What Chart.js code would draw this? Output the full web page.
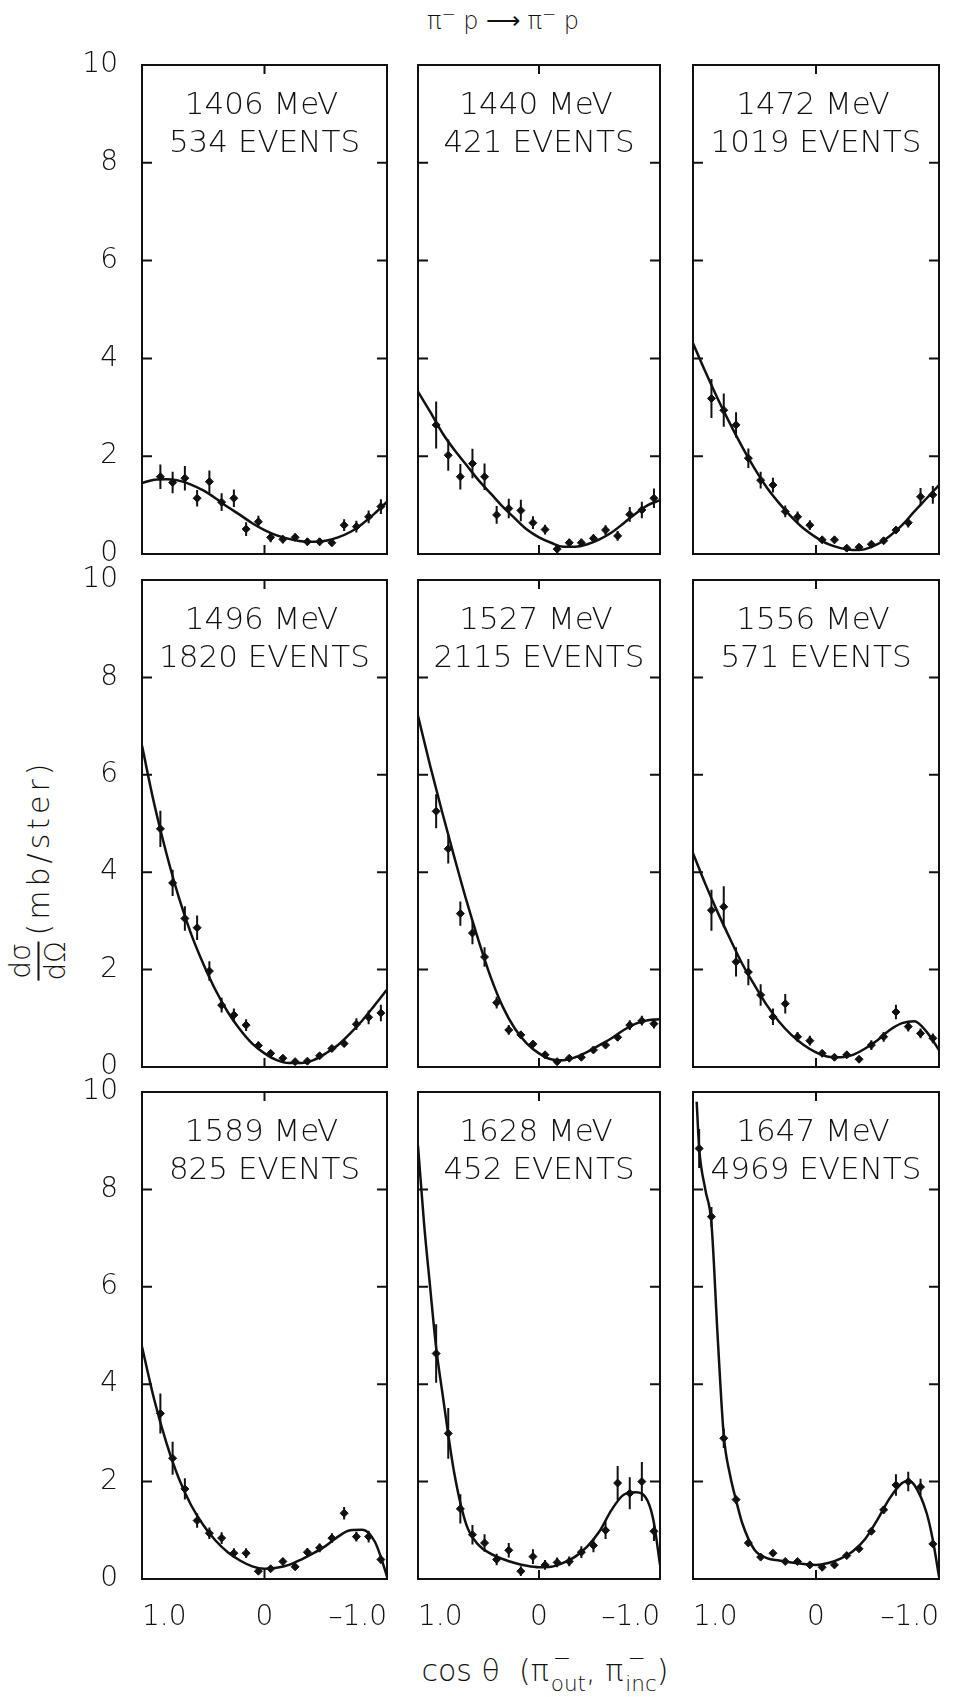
<!DOCTYPE html>
<html>
<head>
<meta charset="utf-8">
<script src="https://cdn.jsdelivr.net/npm/chart.js@4.4.1/dist/chart.umd.min.js"></script>
<style>
  body { margin: 0; background: #fff; width: 968px; height: 1697px; position: relative; overflow: hidden;
         font-family: "DejaVu Sans", sans-serif; font-weight: 200; color: #111; }
  canvas { position: absolute; }
  .txt { position: absolute; white-space: nowrap; transform: translate(-50%, -50%); font-size: 31px; }
  #title { position: absolute; left: 503px; top: 19px; transform: translate(-50%, -50%); font-size: 24px; white-space: nowrap; }
  #ytitle { position: absolute; left: 38px; top: 870px; transform: translate(-50%, -50%) rotate(-90deg);
            display: flex; align-items: center; white-space: nowrap; font-size: 30px; }
  .frac { display: inline-flex; flex-direction: column; align-items: center; line-height: 1; font-size: 28px; margin-right: 6px; }
  .frac .bar { align-self: stretch; border-top: 2px solid #111; margin: 3px 0 2px; }
  .unit { letter-spacing: 4px; }
  #xtitle { position: absolute; left: 545px; top: 1670px; transform: translate(-50%, -50%); font-size: 30px; white-space: nowrap; }
  .ss { position: relative; display: inline-block; font-size: 0.72em; margin-left: 2px; }
  .ss .sp { position: absolute; left: 0.1em; top: -0.75em; }
  .ss .sb { position: relative; top: 0.45em; }
</style>
</head>
<body>
<div id="title">π<sup style="font-size:0.7em">−</sup> p ⟶ π<sup style="font-size:0.7em">−</sup> p</div>
<div id="ytitle"><span class="frac"><span>dσ</span><span class="bar"></span><span>dΩ</span></span><span class="unit">(mb/ster)</span></div>
<div id="xtitle">cos θ&nbsp; (π<span class="ss"><span class="sp">−</span><span class="sb">out</span></span>, π<span class="ss"><span class="sp">−</span><span class="sb">inc</span></span>)</div>
<script>
// ================== Data ==================
const energies = [1406, 1440, 1472, 1496, 1527, 1556, 1589, 1628, 1647];
const events = [534, 421, 1019, 1820, 2115, 571, 825, 452, 4969];

// bin centres of cos θ (forward bin missing except at 1647 MeV)
const cosBins = [0.95, 0.85, 0.75, 0.65, 0.55, 0.45, 0.35, 0.25, 0.15, 0.05, -0.05, -0.15, -0.25, -0.35, -0.45, -0.55, -0.65, -0.75, -0.85, -0.95];

const y1406 = [null, 1.58, 1.46, 1.55, 1.14, 1.48, 1.06, 1.14, 0.51, 0.66, 0.34, 0.30, 0.34, 0.25, 0.25, 0.23, 0.59, 0.56, 0.76, 0.97];
const e1406 = [null, 0.25, 0.22, 0.25, 0.17, 0.23, 0.18, 0.18, 0.14, 0.12, 0.10, 0.08, 0.08, 0.07, 0.07, 0.07, 0.12, 0.12, 0.13, 0.15];
const y1440 = [null, 2.64, 2.02, 1.58, 1.85, 1.58, 0.80, 0.93, 0.89, 0.64, 0.50, 0.10, 0.23, 0.23, 0.32, 0.49, 0.37, 0.81, 0.90, 1.14];
const e1440 = [null, 0.48, 0.32, 0.26, 0.30, 0.27, 0.18, 0.20, 0.22, 0.13, 0.10, 0.08, 0.08, 0.08, 0.08, 0.10, 0.10, 0.15, 0.17, 0.20];
const y1472 = [null, 3.18, 2.94, 2.64, 1.96, 1.51, 1.41, 0.87, 0.76, 0.59, 0.29, 0.29, 0.12, 0.14, 0.20, 0.27, 0.49, 0.64, 1.17, 1.21];
const e1472 = [null, 0.40, 0.34, 0.26, 0.20, 0.17, 0.15, 0.12, 0.11, 0.10, 0.07, 0.07, 0.05, 0.05, 0.05, 0.06, 0.08, 0.10, 0.18, 0.18];
const y1496 = [null, 4.89, 3.78, 3.05, 2.86, 1.97, 1.27, 1.07, 0.86, 0.44, 0.28, 0.18, 0.11, 0.12, 0.23, 0.38, 0.48, 0.88, 1.02, 1.11];
const e1496 = [null, 0.37, 0.27, 0.25, 0.25, 0.20, 0.15, 0.13, 0.12, 0.08, 0.06, 0.05, 0.04, 0.04, 0.05, 0.06, 0.07, 0.12, 0.14, 0.17];
const y1527 = [null, 5.25, 4.48, 3.15, 2.75, 2.26, 1.32, 0.76, 0.66, 0.47, 0.25, 0.11, 0.18, 0.20, 0.35, 0.45, 0.61, 0.86, 0.95, 0.89];
const e1527 = [null, 0.35, 0.30, 0.25, 0.23, 0.20, 0.12, 0.10, 0.08, 0.07, 0.05, 0.04, 0.04, 0.04, 0.06, 0.06, 0.07, 0.10, 0.10, 0.10];
const y1556 = [null, 3.22, 3.29, 2.16, 1.95, 1.48, 1.03, 1.30, 0.62, 0.54, 0.28, 0.20, 0.25, 0.16, 0.45, 0.62, 1.13, 0.83, 0.69, 0.59];
const e1556 = [null, 0.42, 0.42, 0.30, 0.27, 0.22, 0.17, 0.20, 0.10, 0.10, 0.06, 0.05, 0.05, 0.05, 0.10, 0.10, 0.15, 0.10, 0.10, 0.10];
const y1589 = [null, 3.40, 2.48, 1.85, 1.20, 0.94, 0.84, 0.53, 0.53, 0.16, 0.21, 0.36, 0.25, 0.55, 0.64, 0.84, 1.35, 0.87, 0.87, 0.40];
const e1589 = [null, 0.41, 0.34, 0.22, 0.15, 0.12, 0.12, 0.10, 0.10, 0.05, 0.05, 0.07, 0.06, 0.08, 0.09, 0.10, 0.13, 0.10, 0.12, 0.08];
const y1628 = [null, 4.63, 2.99, 1.44, 0.91, 0.74, 0.40, 0.59, 0.16, 0.46, 0.29, 0.34, 0.36, 0.55, 0.69, 1.00, 1.97, 1.76, 2.00, 0.98];
const e1628 = [null, 0.60, 0.52, 0.30, 0.20, 0.18, 0.12, 0.15, 0.10, 0.15, 0.10, 0.10, 0.10, 0.12, 0.14, 0.18, 0.35, 0.33, 0.40, 0.20];
const y1647 = [8.84, 7.44, 2.89, 1.63, 0.74, 0.45, 0.53, 0.36, 0.36, 0.29, 0.24, 0.29, 0.48, 0.62, 0.98, 1.42, 1.93, 2.00, 1.89, 0.72];
const e1647 = [0.40, 0.20, 0.20, 0.08, 0.05, 0.04, 0.04, 0.03, 0.03, 0.03, 0.03, 0.03, 0.04, 0.05, 0.06, 0.08, 0.22, 0.20, 0.17, 0.06];

// fitted curves
const fitCos = [1.0, 0.9, 0.8, 0.7, 0.6, 0.5, 0.4, 0.3, 0.2, 0.1, 0.0, -0.1, -0.2, -0.3, -0.4, -0.5, -0.6, -0.7, -0.8, -0.9, -1.0];
const fit1406 = [1.45, 1.52, 1.53, 1.50, 1.42, 1.30, 1.14, 0.96, 0.80, 0.63, 0.49, 0.38, 0.31, 0.26, 0.25, 0.27, 0.34, 0.45, 0.62, 0.83, 1.07];
const fit1440 = [3.32, 2.91, 2.48, 2.13, 1.82, 1.51, 1.24, 0.97, 0.73, 0.50, 0.34, 0.23, 0.15, 0.15, 0.20, 0.30, 0.44, 0.63, 0.83, 1.00, 1.10];
const fit1472 = [4.31, 3.73, 3.18, 2.67, 2.19, 1.75, 1.36, 1.04, 0.76, 0.52, 0.34, 0.20, 0.12, 0.08, 0.10, 0.20, 0.37, 0.59, 0.87, 1.14, 1.41];
const fit1496 = [6.60, 5.40, 4.38, 3.49, 2.74, 2.12, 1.58, 1.13, 0.77, 0.48, 0.28, 0.14, 0.08, 0.08, 0.14, 0.28, 0.45, 0.69, 0.96, 1.27, 1.59];
const fit1527 = [7.21, 6.19, 5.23, 4.31, 3.42, 2.60, 1.85, 1.24, 0.79, 0.48, 0.28, 0.16, 0.14, 0.20, 0.31, 0.45, 0.59, 0.76, 0.89, 0.96, 0.98];
const fit1556 = [4.39, 3.76, 3.18, 2.64, 2.12, 1.68, 1.27, 0.93, 0.66, 0.45, 0.30, 0.21, 0.20, 0.25, 0.38, 0.55, 0.76, 0.90, 0.94, 0.72, 0.35];
const fitCos1589 = [1.0, 0.9, 0.8, 0.7, 0.6, 0.5, 0.4, 0.3, 0.2, 0.1, 0.0, -0.1, -0.2, -0.3, -0.4, -0.5, -0.6, -0.7, -0.8, -0.9, -0.95, -1.0];
const fit1589 = [4.77, 3.68, 2.79, 2.07, 1.52, 1.11, 0.79, 0.55, 0.38, 0.26, 0.21, 0.23, 0.29, 0.40, 0.53, 0.68, 0.87, 1.00, 1.01, 0.77, 0.45, 0.05];
const fitCos1628 = [1.0, 0.95, 0.9, 0.85, 0.8, 0.7, 0.6, 0.5, 0.4, 0.3, 0.2, 0.1, 0.0, -0.1, -0.2, -0.3, -0.4, -0.5, -0.6, -0.7, -0.8, -0.9, -0.95, -1.0];
const fit1628 = [8.9, 7.3, 6.0, 4.75, 3.85, 2.17, 1.11, 0.70, 0.52, 0.41, 0.33, 0.27, 0.24, 0.25, 0.33, 0.46, 0.67, 0.98, 1.42, 1.73, 1.78, 1.59, 1.15, 0.29];
const fitCos1647 = [0.97, 0.95, 0.9, 0.85, 0.8, 0.75, 0.7, 0.65, 0.6, 0.5, 0.4, 0.3, 0.2, 0.1, 0.0, -0.1, -0.2, -0.3, -0.4, -0.5, -0.6, -0.7, -0.75, -0.8, -0.9, -0.95, -1.0];
const fit1647 = [9.8, 8.85, 8.0, 7.3, 5.0, 2.95, 2.15, 1.62, 1.15, 0.60, 0.43, 0.38, 0.34, 0.31, 0.29, 0.33, 0.42, 0.57, 0.82, 1.22, 1.66, 1.97, 2.02, 1.93, 1.35, 0.8, 0.05];

// ascending order, so the end labels sit inside the panel on the reversed axis
const xTicks = [-1, 0, 1];
const yTicks = [0, 2, 4, 6, 8, 10];

const panelPts = [y1406, y1440, y1472, y1496, y1527, y1556, y1589, y1628, y1647];
const panelErr = [e1406, e1440, e1472, e1496, e1527, e1556, e1589, e1628, e1647];
const panelFit = [fit1406, fit1440, fit1472, fit1496, fit1527, fit1556, fit1589, fit1628, fit1647];
const panelFitCos = [fitCos, fitCos, fitCos, fitCos, fitCos, fitCos, fitCos1589, fitCos1628, fitCos1647];

// ================== Layout ==================
const colLeft = [142, 418, 693], colRight = [387, 660, 939];
const rowTop = [65, 580, 1092], rowBottom = [554, 1067, 1579];
const ML = 80, MR = 70, MT = 50, MB = 70;
const INK = "#111";
const tickFont = { family: "DejaVu Sans", size: 28, weight: "200" };

// frame with inward ticks, taken from the scales
const frame = {
  id: "frame",
  afterDatasetsDraw(chart) {
    const { ctx, chartArea: a, scales } = chart;
    ctx.save();
    ctx.strokeStyle = INK;
    ctx.lineWidth = 2;
    ctx.strokeRect(a.left, a.top, a.right - a.left, a.bottom - a.top);
    ctx.beginPath();
    scales.y.ticks.forEach((t) => {
      if (t.value <= scales.y.min || t.value >= scales.y.max) return;
      const py = scales.y.getPixelForValue(t.value);
      ctx.moveTo(a.left, py); ctx.lineTo(a.left + 10, py);
      ctx.moveTo(a.right, py); ctx.lineTo(a.right - 10, py);
    });
    scales.x.ticks.forEach((t) => {
      if (t.value <= scales.x.min || t.value >= scales.x.max) return;
      const px = scales.x.getPixelForValue(t.value);
      ctx.moveTo(px, a.top); ctx.lineTo(px, a.top + 9);
      ctx.moveTo(px, a.bottom); ctx.lineTo(px, a.bottom - 9);
    });
    ctx.stroke();
    ctx.restore();
  },
};

function xLabel(v) {
  if (v === 0) return "0";
  return v > 0 ? "1.0" : "\u20131.0";
}

function addText(str, x, y) {
  const d = document.createElement("div");
  d.className = "txt";
  d.textContent = str;
  d.style.left = x + "px";
  d.style.top = y + "px";
  document.body.appendChild(d);
}

// ================== Panels ==================
function makePanel(i) {
  const col = i % 3, row = Math.floor(i / 3);
  const left = colLeft[col], right = colRight[col], top = rowTop[row], bottom = rowBottom[row];

  const canvas = document.createElement("canvas");
  canvas.width = right - left + ML + MR;
  canvas.height = bottom - top + MT + MB;
  canvas.style.left = left - ML + "px";
  canvas.style.top = top - MT + "px";
  document.body.appendChild(canvas);

  const ys = panelPts[i], es = panelErr[i];
  const pts = [], bars = [];
  cosBins.forEach((c, k) => {
    if (ys[k] == null) return;
    pts.push({ x: c, y: ys[k] });
    bars.push({ x: c, y: ys[k] - es[k] }, { x: c, y: ys[k] + es[k] }, { x: c, y: null });
  });
  const fit = panelFitCos[i].map((c, k) => ({ x: c, y: panelFit[i][k] }));

  new Chart(canvas, {
    type: "scatter",
    data: {
      datasets: [
        { data: fit, showLine: true, pointRadius: 0, borderColor: INK, borderWidth: 2.5, cubicInterpolationMode: "monotone" },
        { data: bars, showLine: true, spanGaps: false, pointRadius: 0, borderColor: INK, borderWidth: 2 },
        { data: pts, pointStyle: "rectRot", pointRadius: 4, backgroundColor: INK, borderColor: INK, borderWidth: 1 },
      ],
    },
    options: {
      responsive: false,
      animation: false,
      devicePixelRatio: 1,
      layout: { padding: { left: 0, right: MR, top: MT, bottom: 0 } },
      plugins: { legend: { display: false }, tooltip: { enabled: false } },
      scales: {
        x: {
          type: "linear", min: -1, max: 1, reverse: true,
          grid: { display: false, drawTicks: false },
          border: { display: false },
          afterBuildTicks: (axis) => { axis.ticks = xTicks.map((v) => ({ value: v })); },
          afterFit: (axis) => { axis.height = MB; },
          ticks: { display: row === 2, align: "inner", padding: 22, color: INK, font: tickFont, maxRotation: 0, autoSkip: false, callback: (v) => xLabel(v) },
        },
        y: {
          min: 0, max: 10,
          grid: { display: false, drawTicks: false },
          border: { display: false },
          afterBuildTicks: (axis) => { axis.ticks = yTicks.map((v) => ({ value: v })); },
          afterFit: (axis) => { axis.width = ML; },
          ticks: { display: col === 0, padding: 24, color: INK, font: tickFont, autoSkip: false, callback: (v) => String(v) },
        },
      },
    },
    plugins: [frame],
  });

  const cx = (left + right) / 2;
  addText(energies[i] + " MeV", cx - 3, top + 38);
  addText(events[i] + " EVENTS", cx, top + 76);
}

energies.forEach((_, i) => makePanel(i));
</script>
</body>
</html>
